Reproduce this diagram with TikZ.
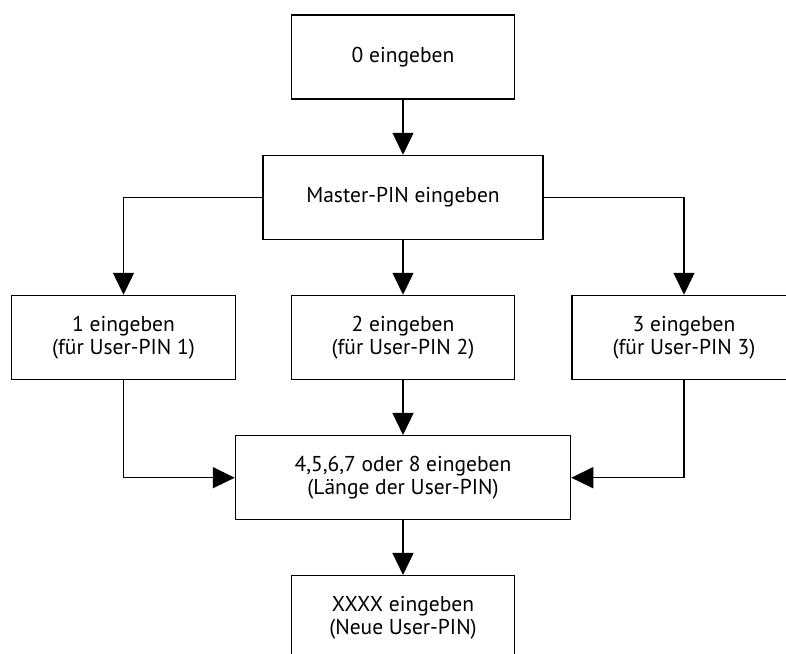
\documentclass[tikz,border=0pt]{standalone}
\usepackage{fontspec}
\setmainfont{PT Sans}
\usetikzlibrary{arrows.meta}
\begin{document}
\begin{tikzpicture}[x=1pt,y=1pt,
  box/.style={draw=black, line width=1.5pt, fill=white, inner sep=0pt, align=center,
    font=\fontsize{21.5}{22.7}\selectfont, minimum height=84pt},
  conn/.style={draw=black, line width=1.5pt, -{Triangle[length=22pt,width=21pt]}}]
\useasboundingbox (0,0) rectangle (786,-653);
\begin{scope}
\clip (0,0) rectangle (786,-653);
\node[box, minimum width=223pt] (b0) at (403,-57) {0 eingeben};
\node[box, minimum width=280pt] (m) at (403,-197.5) {Master-PIN eingeben};
\node[box, minimum width=224pt] (b1) at (123.5,-337.5) {1 eingeben\\(für User-PIN 1)};
\node[box, minimum width=223pt] (b2) at (403,-337.5) {2 eingeben\\(für User-PIN 2)};
\node[box, minimum width=224pt] (b3) at (684,-337.5) {3 eingeben\\(für User-PIN 3)};
\node[box, minimum width=335pt] (l) at (403,-477.7) {4,5,6,7 oder 8 eingeben\\(Länge der User-PIN)};
\node[box, minimum width=223pt] (x) at (403,-617.7) {XXXX eingeben\\(Neue User-PIN)};
\draw[conn] (b0) -- (m);
\draw[conn] (m.west) -| (b1.north);
\draw[conn] (m) -- (b2);
\draw[conn] (m.east) -| (b3.north);
\draw[conn] (b2) -- (l);
\draw[conn] (b1.south) |- (l.west);
\draw[conn] (b3.south) |- (l.east);
\draw[conn] (l) -- (x);
\end{scope}
\end{tikzpicture}
\end{document}
